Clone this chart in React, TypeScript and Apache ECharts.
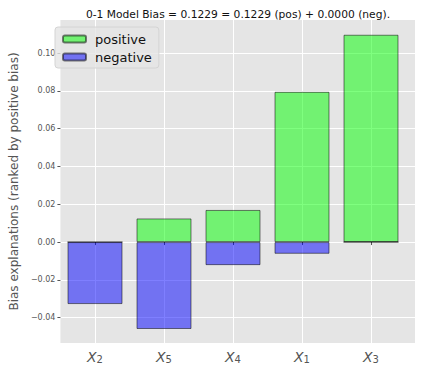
import React, { useEffect, useRef } from "react";
import * as echarts from "echarts";

const categories = ["2", "5", "4", "1", "3"];
const positiveValues = [0.0, 0.0125, 0.017, 0.0795, 0.1097];
const negativeValues = [-0.0328, -0.046, -0.0122, -0.0062, 0.0];
const yTicks = [-0.04, -0.02, 0.0, 0.02, 0.04, 0.06, 0.08, 0.1];
const yMin = -0.0534;
const yMax = 0.1175;
const titleText = "0-1 Model Bias = 0.1229 = 0.1229 (pos) + 0.0000 (neg).";
const yName = "Bias explanations (ranked by positive bias)";

const FONT = "DejaVu Sans";

export default function App() {
  const ref = useRef<HTMLDivElement>(null);
  useEffect(() => {
    if (!ref.current) return;
    const chart = echarts.init(ref.current, undefined, { renderer: "svg" });
    const fmt = (v: number) => {
      const s = v.toFixed(2);
      return s.startsWith("-") ? "\u2212" + s.slice(1) : s;
    };
    chart.setOption({
      animation: false,
      backgroundColor: "#ffffff",
      textStyle: { fontFamily: FONT },
      title: {
        text: titleText,
        left: 233,
        textAlign: "center",
        top: 4,
        textStyle: { fontSize: 10.7, fontWeight: "normal", color: "#111", fontFamily: FONT },
      },
      legend: {
        left: 55,
        top: 27,
        orient: "vertical",
        itemWidth: 23,
        itemHeight: 7,
        itemGap: 4,
        padding: [5, 7, 4, 7],
        backgroundColor: "rgba(229,229,229,0.8)",
        borderColor: "#d4d4d4",
        borderWidth: 1,
        borderRadius: 3,
        textStyle: { fontSize: 13, color: "#111", lineHeight: 14, fontFamily: FONT, padding: [0, 0, 0, 4] },
        data: ["positive", "negative"],
      },
      grid: [
        { left: 51, right: 8, top: 20, bottom: 27, show: true, backgroundColor: "#e5e5e5", borderWidth: 0 },
        { left: 95, right: 52, top: 20, bottom: 27 },
      ],
      xAxis: [
        { type: "value", gridIndex: 0, min: 0, max: 1, show: false },
        {
          type: "category",
          gridIndex: 1,
          data: categories,
          boundaryGap: false,
          axisLine: { show: false },
          axisTick: { show: true, interval: 0, length: 3, lineStyle: { color: "#555" } },
          splitLine: { show: true, interval: 0, lineStyle: { color: "#ffffff", width: 1 } },
          axisLabel: {
            interval: 0,
            margin: 5,
            formatter: (v: string) => `{x|X}{s|${v}}`,
            rich: {
              x: { fontSize: 14, fontStyle: "italic", color: "#555", fontFamily: FONT, verticalAlign: "bottom" },
              s: { fontSize: 10, color: "#555", fontFamily: FONT, padding: [6, 0, 0, 0], verticalAlign: "bottom" },
            },
          },
        },
      ],
      yAxis: [
        {
          type: "value",
          gridIndex: 0,
          min: yMin,
          max: yMax,
          name: yName,
          nameLocation: "middle",
          nameGap: 38,
          nameTextStyle: { fontSize: 12, color: "#555", fontFamily: FONT },
          axisLine: { show: false },
          axisTick: { show: true, length: 3, customValues: yTicks, lineStyle: { color: "#555" } },
          splitLine: { show: true, lineStyle: { color: "#ffffff", width: 1 } },
          axisLabel: { fontSize: 8, color: "#555", margin: 5, customValues: yTicks, formatter: fmt },
        },
        { type: "value", gridIndex: 1, min: yMin, max: yMax, show: false },
      ],
      series: [
        {
          name: "positive",
          type: "bar",
          xAxisIndex: 1,
          yAxisIndex: 1,
          data: positiveValues,
          barWidth: 55,
          barGap: "-100%",
          clip: false,
          itemStyle: { color: "rgba(0,255,0,0.5)", borderColor: "rgba(0,0,0,0.5)", borderWidth: 1 },
        },
        {
          name: "negative",
          type: "bar",
          xAxisIndex: 1,
          yAxisIndex: 1,
          data: negativeValues,
          barWidth: 55,
          barGap: "-100%",
          clip: false,
          itemStyle: { color: "rgba(0,0,255,0.5)", borderColor: "rgba(0,0,0,0.5)", borderWidth: 1 },
        },
      ],
    });
    return () => chart.dispose();
  }, []);
  return <div ref={ref} style={{ width: 423, height: 370, position: "absolute", left: 0, top: 0 }} />;
}
